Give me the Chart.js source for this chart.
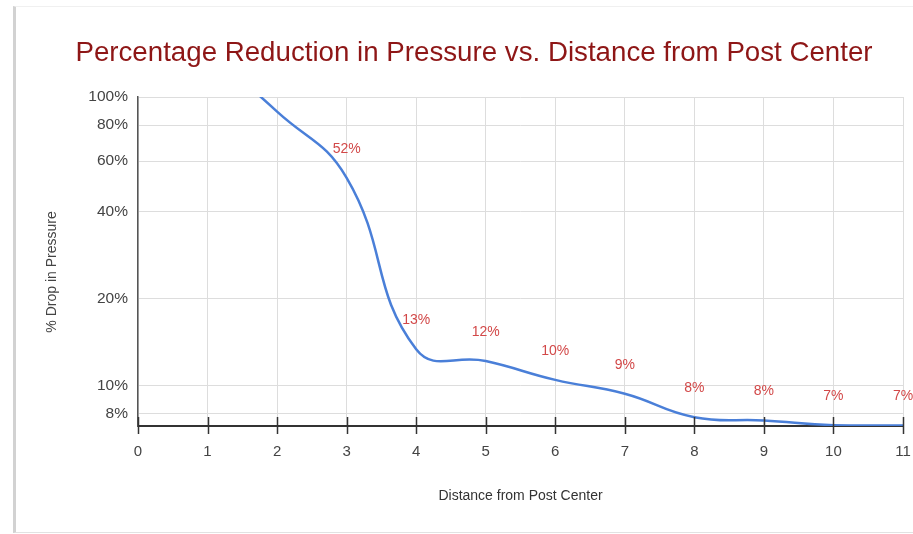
<!DOCTYPE html>
<html>
<head>
<meta charset="utf-8">
<script src="https://cdn.jsdelivr.net/npm/chart.js@4"></script>
<style>
  html, body { margin: 0; padding: 0; background: #fff; }
  #wrap { position: relative; width: 913px; height: 534px; overflow: hidden; }
  #frame { position: absolute; left: 13px; top: 6px; width: 920px; height: 525px;
           border-left: 3px solid #d2d2d2; border-top: 1px solid #f0f0f0; border-bottom: 1px solid #e2e2e2; }
  canvas { position: absolute; left: 0; top: 0; }
</style>
</head>
<body>
<div id="wrap">
  <div id="frame"></div>
  <canvas id="c" width="913" height="534"></canvas>
</div>
<script>
const chartTitle = 'Percentage Reduction in Pressure vs. Distance from Post Center';
const xAxisTitle = 'Distance from Post Center';
const yAxisTitle = '% Drop in Pressure';
const distances = [1, 2, 3, 4, 5, 6, 7, 8, 9, 10, 11];
const dropPct = [145, 89, 52.5, 13.4, 12.2, 10.5, 9.4, 7.8, 7.6, 7.32, 7.3];
const pointLabels = ['', '', '52%', '13%', '12%', '10%', '9%', '8%', '8%', '7%', '7%'];
const yTickValues = [8, 10, 20, 40, 60, 80, 100];
const xMin = 0, xMax = 11;
const yMin = 7.27, yMax = 100;

const FONT = "'Liberation Sans', Arial, sans-serif";

const overlay = {
  id: 'overlay',
  afterDatasetsDraw(chart) {
    const ctx = chart.ctx;
    const xs = chart.scales.x, ys = chart.scales.y;
    const area = chart.chartArea;
    ctx.save();
    ctx.strokeStyle = '#333';
    ctx.lineWidth = 1.5;
    for (let v = xMin; v <= xMax; v++) {
      const px = Math.round(xs.getPixelForValue(v)) + 0.5;
      ctx.beginPath();
      ctx.moveTo(px, area.bottom - 9);
      ctx.lineTo(px, area.bottom + 8);
      ctx.stroke();
    }
    ctx.fillStyle = '#d24848';
    ctx.font = '14px ' + FONT;
    ctx.textAlign = 'center';
    ctx.textBaseline = 'middle';
    distances.forEach((d, i) => {
      if (!pointLabels[i]) return;
      const px = xs.getPixelForValue(d);
      const py = ys.getPixelForValue(dropPct[i]);
      ctx.fillText(pointLabels[i], px, py - 29);
    });
    ctx.fillStyle = '#8e1616';
    ctx.font = '27.7px ' + FONT;
    ctx.fillText(chartTitle, 474, 53);
    ctx.translate(52, 272);
    ctx.rotate(-Math.PI / 2);
    ctx.fillStyle = '#444';
    ctx.font = '14px ' + FONT;
    ctx.fillText(yAxisTitle, 0, 0);
    ctx.restore();
  }
};

new Chart(document.getElementById('c'), {
  type: 'line',
  data: {
    datasets: [{
      data: distances.map((d, i) => ({ x: d, y: dropPct[i] })),
      borderColor: '#4a7fd8',
      borderWidth: 2.5,
      pointRadius: 0,
      tension: 0.45,
      fill: false
    }]
  },
  options: {
    responsive: false,
    animation: false,
    layout: { padding: { left: 0, right: 10, top: 97, bottom: 0 } },
    plugins: { legend: { display: false }, title: { display: false }, tooltip: { enabled: false } },
    scales: {
      x: {
        type: 'linear', min: xMin, max: xMax,
        ticks: { stepSize: 1, color: '#444', font: { family: FONT, size: 15 }, padding: 17, maxRotation: 0, autoSkip: false },
        grid: { color: '#dddddd', lineWidth: 1, drawTicks: false },
        border: { display: true, color: '#333', width: 2 },
        title: { display: true, text: xAxisTitle, color: '#333', font: { family: FONT, size: 14 }, padding: { top: 0, bottom: 29 } },
        afterFit(s) { s.height = 108; s.paddingRight = 0; }
      },
      y: {
        type: 'logarithmic', min: yMin, max: yMax,
        afterBuildTicks(s) { s.ticks = yTickValues.map(v => ({ value: v })); },
        ticks: { color: '#444', font: { family: FONT, size: 15.5 }, padding: 10, autoSkip: false, callback: v => v + '%' },
        grid: { color: '#dddddd', lineWidth: 1, drawTicks: false },
        border: { display: true, color: '#555', width: 1.5 },
        afterFit(s) { s.width = 138; }
      }
    }
  },
  plugins: [overlay]
});
</script>
</body>
</html>
